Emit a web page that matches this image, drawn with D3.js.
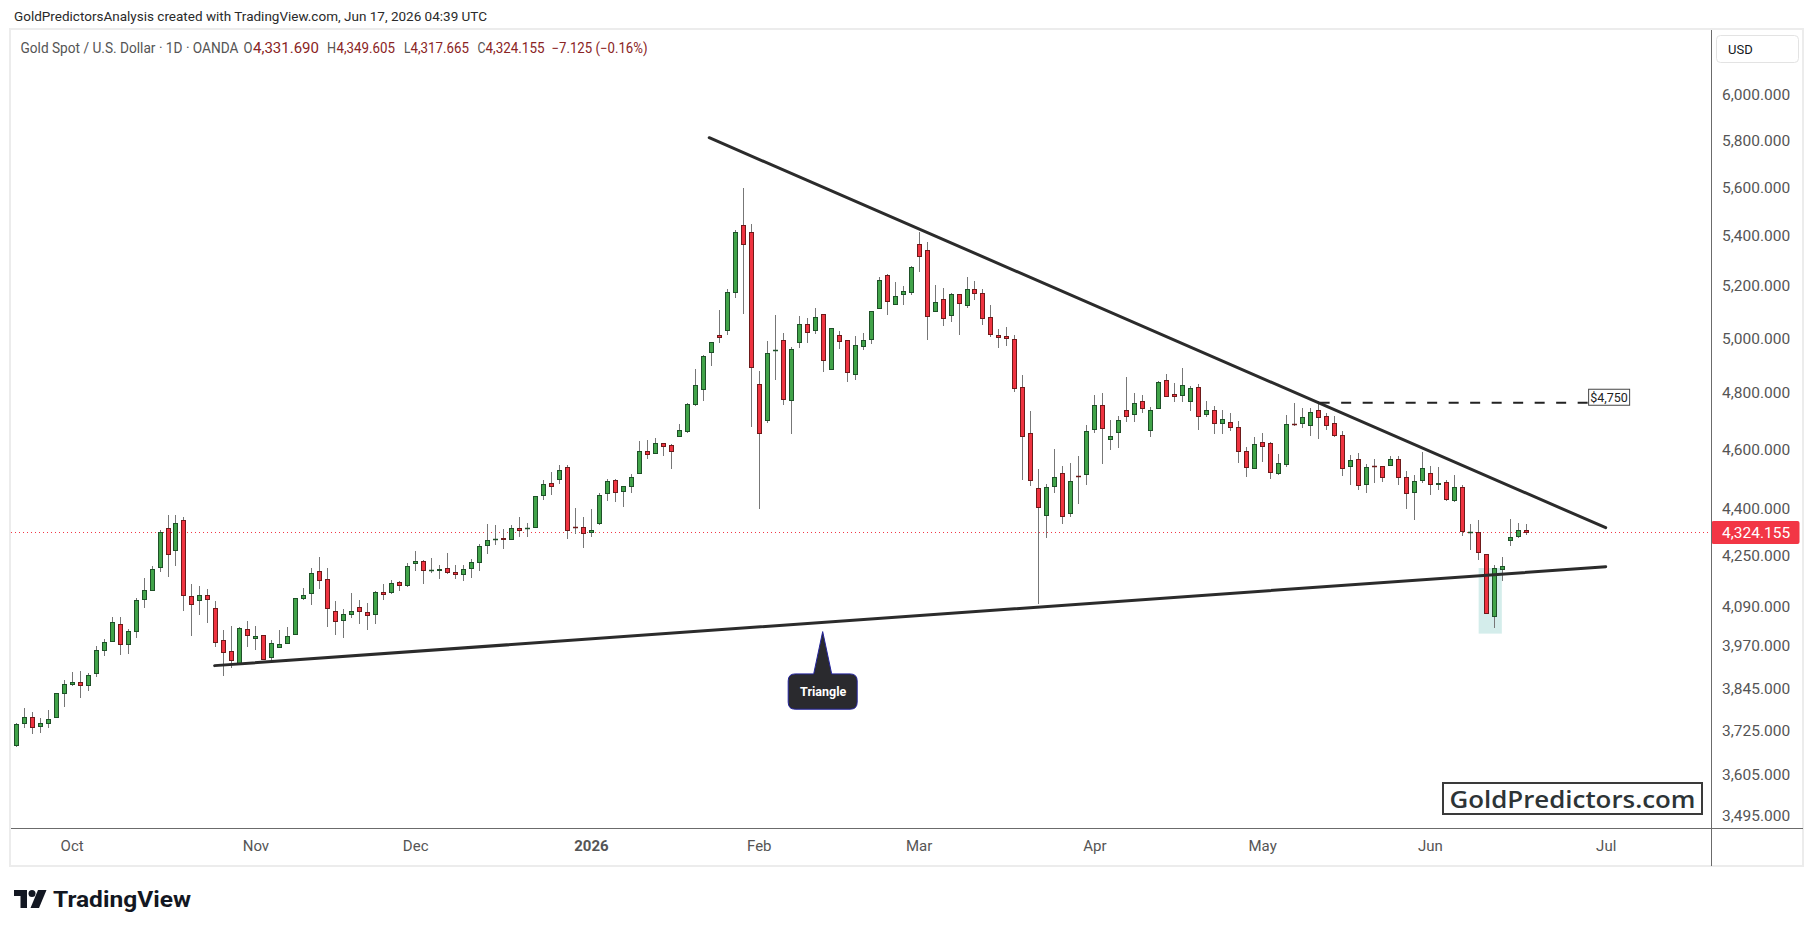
<!DOCTYPE html>
<html>
<head>
<meta charset="utf-8">
<script src="https://cdn.jsdelivr.net/npm/d3@7"></script>
<style>
  body { margin: 0; background: #fff; }
  svg { display: block; font-family: Roboto, "Noto Sans", sans-serif; }
</style>
</head>
<body>
<div id="chart"></div>
<script>
// daily XAUUSD bars, first bar 2025-09-22, last bar 2026-06-17
const startDate = "2025-09-22";
const holidays = ["2025-12-25", "2026-01-01", "2026-04-03"];

const open = [3685,3747,3764,3738,3747,3764,3832,3859,3864,3855,3890,3958,3984,4036,3976,4014,4112,4140,4212,4337,
  4266,4363,4121,4109,4124,4084,3987,3955,3919,4020,3993,4002,3937,3967,3979,4005,4115,4130,4199,4174,
  4075,4048,4066,4087,4072,4066,4134,4134,4165,4156,4224,4231,4202,4204,4209,4196,4190,4209,4227,4282,
  4300,4304,4301,4337,4336,4340,4445,4485,4499,4539,4340,4340,4324,4353,4452,4495,4459,4475,4519,4594,
  4587,4622,4615,4646,4664,4759,4813,4948,5011,5030,5175,5442,5414,4831,4702,4955,4993,4773,4985,5053,
  5030,5091,4885,5011,4993,4867,4970,4996,5114,5242,5129,5168,5175,5365,5341,5102,5148,5087,5168,5125,
  5187,5172,5079,5011,5008,4996,4820,4657,4469,4379,4475,4519,4386,4510,4516,4671,4755,4636,4660,4737,
  4723,4769,4667,4745,4845,4794,4791,4769,4820,4723,4737,4692,4695,4678,4594,4536,4625,4622,4519,4550,
  4689,4692,4685,4737,4716,4692,4649,4543,4567,4482,4543,4543,4546,4567,4506,4455,4495,4519,4484,4489,
  4429,4472,4323,4324,4253,4060,4205,4298,4311,4331.69];
const high = [3747,3790,3778,3762,3784,3832,3870,3894,3897,3891,3970,3991,4058,4058,4020,4116,4178,4215,4330,4380,
  4380,4373,4159,4152,4144,4106,4017,4030,4027,4046,4030,4002,3987,4017,4027,4115,4146,4209,4243,4209,
  4106,4081,4130,4109,4100,4137,4158,4171,4169,4224,4263,4234,4241,4219,4257,4219,4219,4237,4285,4350,
  4346,4333,4346,4372,4353,4442,4495,4522,4546,4546,4402,4372,4399,4452,4499,4499,4475,4516,4630,4632,
  4639,4622,4618,4688,4762,4885,4937,4985,5107,5187,5422,5595,5446,4879,4989,5087,5019,4966,5083,5076,
  5114,5091,5038,5026,4993,5008,5019,5102,5234,5246,5214,5199,5277,5414,5373,5203,5191,5172,5168,5234,
  5218,5187,5125,5034,5042,5011,4863,4734,4533,4482,4601,4543,4553,4577,4685,4792,4799,4702,4716,4857,
  4799,4792,4748,4842,4867,4834,4889,4823,4831,4769,4752,4737,4727,4699,4608,4643,4657,4625,4584,4720,
  4762,4745,4745,4769,4727,4716,4664,4581,4587,4550,4567,4543,4577,4577,4526,4512,4591,4543,4539,4495,
  4512,4479,4350,4363,4253,4218,4243,4366,4353,4349.605];
const low = [3684,3737,3718,3723,3736,3764,3794,3855,3820,3841,3883,3942,3984,3945,3948,3998,4089,4140,4201,4185,
  4220,4080,4004,4065,4043,3971,3886,3909,3919,3971,3962,3931,3928,3967,3979,4005,4112,4098,4145,4031,
  4007,3998,4056,4040,4022,4040,4111,4130,4141,4153,4203,4163,4195,4176,4192,4176,4170,4182,4204,4258,
  4285,4271,4301,4311,4311,4340,4432,4448,4485,4304,4320,4275,4311,4350,4429,4425,4409,4455,4519,4570,
  4587,4581,4536,4646,4660,4755,4773,4900,4987,5015,5156,5095,4681,4401,4695,4849,4759,4657,4966,4985,
  5019,4878,4885,4963,4842,4849,4959,4981,5114,5091,5129,5129,5168,5258,4996,5102,5049,5064,5015,5118,
  5148,5053,5008,4966,4974,4805,4501,4479,4100,4307,4455,4353,4376,4419,4482,4660,4553,4601,4608,4699,
  4699,4730,4646,4745,4787,4769,4769,4737,4671,4716,4657,4657,4667,4557,4509,4536,4560,4502,4516,4543,
  4685,4678,4649,4639,4671,4646,4512,4482,4465,4455,4489,4492,4546,4482,4402,4366,4489,4448,4465,4429,
  4425,4314,4269,4237,4069,4026,4171,4282,4307,4317.665];
const close = [3744,3764,3736,3747,3758,3832,3858,3864,3855,3884,3958,3981,4042,3976,4014,4109,4140,4205,4324,4253,
  4353,4124,4097,4124,4112,3981,3952,3928,4023,4002,3999,3931,3979,3976,3999,4115,4124,4193,4171,4084,
  4045,4066,4075,4075,4063,4134,4127,4162,4155,4215,4231,4202,4203,4205,4196,4190,4205,4227,4279,4298,
  4301,4301,4337,4330,4337,4442,4482,4475,4529,4330,4339,4320,4330,4445,4492,4455,4475,4506,4594,4584,
  4622,4611,4594,4667,4759,4827,4933,4985,5004,5175,5414,5365,4893,4657,4944,4957,4777,4959,5053,5023,
  5079,4918,5038,4989,4874,4974,4993,5102,5222,5141,5160,5179,5273,5317,5083,5137,5076,5168,5133,5187,
  5172,5076,5015,5004,5000,4816,4646,4495,4405,4472,4506,4376,4492,4509,4664,4755,4674,4646,4702,4716,
  4762,4745,4737,4838,4787,4787,4827,4816,4716,4737,4692,4706,4678,4594,4539,4618,4611,4522,4553,4688,
  4688,4713,4730,4713,4685,4649,4536,4563,4479,4539,4542,4506,4567,4506,4452,4492,4536,4482,4485,4432,
  4472,4327,4325,4259,4069,4209,4215,4307,4331.28,4324.155];

const priceTicks = [6000,5800,5600,5400,5200,5000,4800,4600,4400,4250,4090,3970,3845,3725,3605,3495];
const monthTicks = [["2025-10-01","Oct"],["2025-11-03","Nov"],["2025-12-01","Dec"],["2026-01-02","2026"],
  ["2026-02-02","Feb"],["2026-03-02","Mar"],["2026-04-01","Apr"],["2026-05-01","May"],["2026-06-01","Jun"],["2026-07-01","Jul"]];

// drawings: bar index (fractional allowed) and price
const upperTrend = [[86.8, 5811], [199.0, 4338]];
const lowerTrend = [[24.9, 3912], [199.0, 4213]];
const levelLine = { from: 163.2, to: 196.8, price: 4764, label: "$4,750" };
const highlight = { from: 183.1, to: 186.0, top: 4209, bottom: 4007 };
const callout = { index: 101, price: 4013, label: "Triangle" };

const W = 1814, H = 932;
const pane = { left: 11, right: 1711, top: 30, bottom: 828 };

const days = [];
for (let d = new Date(startDate + "T00:00:00Z"); days.length < 230; d.setUTCDate(d.getUTCDate() + 1)) {
  const iso = d.toISOString().slice(0, 10);
  if (d.getUTCDay() === 0 || d.getUTCDay() === 6 || holidays.includes(iso)) continue;
  days.push(iso);
}

const bars = close.map((c, i) => ({ i, o: open[i], h: high[i], l: low[i], c }));
const last = bars.at(-1);

const x = d3.scaleLinear().domain([0, 189]).range([15.7, 1525.8]);
const y = d3.scaleLog().domain([3495, 6000]).range([816, 95]);
const fmt = d3.format(",.3f");

const svg = d3.select("#chart").append("svg").attr("width", W).attr("height", H).attr("viewBox", `0 0 ${W} ${H}`);
svg.append("rect").attr("width", W).attr("height", H).attr("fill", "#fff");

// header
svg.append("text").attr("x", 14).attr("y", 21).attr("font-size", 13.5).attr("fill", "#2a2a2a")
  .attr("textLength", 473).attr("lengthAdjust", "spacingAndGlyphs")
  .text("GoldPredictorsAnalysis created with TradingView.com, Jun 17, 2026 04:39 UTC");

// chart frame
svg.append("rect").attr("x", 10).attr("y", 29).attr("width", 1793).attr("height", 837)
  .attr("fill", "#fff").attr("stroke", "#ececec").attr("stroke-width", 2);

svg.append("defs").append("clipPath").attr("id", "pane").append("rect")
  .attr("x", pane.left).attr("y", pane.top).attr("width", pane.right - pane.left).attr("height", pane.bottom - pane.top);
const plot = svg.append("g").attr("clip-path", "url(#pane)");

// highlight box behind candles
plot.append("rect")
  .attr("x", x(highlight.from)).attr("y", y(highlight.top))
  .attr("width", x(highlight.to) - x(highlight.from)).attr("height", y(highlight.bottom) - y(highlight.top))
  .attr("fill", "rgba(38,166,154,0.2)");

// last price line
const yLast = Math.round(y(last.c)) + 0.5;
plot.append("line").attr("x1", pane.left).attr("x2", pane.right).attr("y1", yLast).attr("y2", yLast)
  .attr("stroke", "#f23645").attr("stroke-dasharray", "1,3");

// candles
const up = (d) => d.c >= d.o;
const candle = plot.append("g").selectAll("g").data(bars).join("g");
candle.append("line")
  .attr("x1", (d) => Math.round(x(d.i)) + 0.5).attr("x2", (d) => Math.round(x(d.i)) + 0.5)
  .attr("y1", (d) => Math.round(y(d.h))).attr("y2", (d) => Math.round(y(d.l)) + 1)
  .attr("stroke", "#777").attr("stroke-width", 1);
candle.each(function (d) {
  const g = d3.select(this);
  const cx = Math.round(x(d.i));
  const yt = Math.round(y(Math.max(d.o, d.c))) + 0.5;
  const yb = Math.round(y(Math.min(d.o, d.c))) + 0.5;
  const edge = up(d) ? "#1e5128" : "#6e1a1a";
  if (yb - yt < 1) {
    g.append("line").attr("x1", cx - 2).attr("x2", cx + 3).attr("y1", yt).attr("y2", yt)
      .attr("stroke", edge).attr("stroke-width", 1.5);
  } else {
    g.append("rect").attr("x", cx - 1.5).attr("y", yt).attr("width", 4).attr("height", yb - yt)
      .attr("fill", up(d) ? "#41a349" : "#ef3340").attr("stroke", edge).attr("stroke-width", 1);
  }
});

// trend lines
const drawings = plot.append("g");
[upperTrend, lowerTrend].forEach((pts) => {
  drawings.append("line")
    .attr("x1", x(pts[0][0])).attr("y1", y(pts[0][1])).attr("x2", x(pts[1][0])).attr("y2", y(pts[1][1]))
    .attr("stroke", "#2b2b2b").attr("stroke-width", 3).attr("stroke-linecap", "round");
});

// horizontal level with label
const yLevel = y(levelLine.price);
drawings.append("line").attr("x1", x(levelLine.from)).attr("x2", x(levelLine.to)).attr("y1", yLevel).attr("y2", yLevel)
  .attr("stroke", "#222").attr("stroke-width", 2).attr("stroke-dasharray", "10,11.5");
const lx = x(levelLine.to);
drawings.append("rect").attr("x", lx + 0.5).attr("y", yLevel - 13.5).attr("width", 41).attr("height", 16)
  .attr("fill", "#fff").attr("stroke", "#444").attr("stroke-width", 1);
drawings.append("text").attr("x", lx + 21).attr("y", yLevel - 5.5).attr("text-anchor", "middle")
  .attr("dominant-baseline", "central").attr("font-size", 12.5).attr("fill", "#222").text(levelLine.label);

// callout
const ax = x(callout.index), ay = y(callout.price);
const bx0 = ax - 34.5, bx1 = ax + 34.5, by0 = ay + 42.3, by1 = ay + 77.6, r = 7;
drawings.append("path")
  .attr("d", `M${bx0 + r},${by0} L${ax - 9},${by0} L${ax},${ay} L${ax + 9},${by0} L${bx1 - r},${by0}
    Q${bx1},${by0} ${bx1},${by0 + r} L${bx1},${by1 - r} Q${bx1},${by1} ${bx1 - r},${by1}
    L${bx0 + r},${by1} Q${bx0},${by1} ${bx0},${by1 - r} L${bx0},${by0 + r} Q${bx0},${by0} ${bx0 + r},${by0} Z`)
  .attr("fill", "#2a2a2e").attr("stroke", "#23239c").attr("stroke-width", 1);
drawings.append("text").attr("x", ax + 0.5).attr("y", (by0 + by1) / 2).attr("text-anchor", "middle")
  .attr("dominant-baseline", "central").attr("font-size", 12.5).attr("font-weight", 700)
  .attr("fill", "#fff").text(callout.label);

// legend: one text, coloured parts
const down = "#8a2424", grey = "#555";
const change = last.c - close[188];
const legend = [
  ["Gold Spot / U.S. Dollar · 1D · OANDA", grey, 20.5, 218],
  ["O", grey, 243.5, 9], [fmt(last.o), down, 253, 66],
  ["H", grey, 327, 9], [fmt(last.h), down, 336.5, 58.5],
  ["L", grey, 404, 6.5], [fmt(last.l), down, 410.5, 58.5],
  ["C", grey, 477.5, 8], [fmt(last.c), down, 485.5, 59],
  [`${fmt(change)} (${d3.format(".2%")(change / close[188])})`, down, 551.5, 96],
];
svg.append("text").attr("y", 52.5).attr("font-size", 13.8)
  .selectAll("tspan").data(legend).join("tspan")
  .attr("x", (d) => d[2]).attr("fill", (d) => d[1])
  .attr("textLength", (d) => d[3]).attr("lengthAdjust", "spacingAndGlyphs").text((d) => d[0]);

// price axis
const yAxis = svg.append("g").attr("transform", `translate(${pane.right},0)`)
  .call(d3.axisRight(y).tickValues(priceTicks).tickSize(0).tickPadding(11).tickFormat(fmt));
yAxis.select(".domain").remove();
yAxis.selectAll("text").attr("font-size", 15.5).attr("fill", "#555").attr("font-family", "Roboto, sans-serif");

// last price tag
svg.append("rect").attr("x", pane.right + 0.5).attr("y", yLast - 11.5).attr("width", 88).attr("height", 23)
  .attr("rx", 2).attr("fill", "#f23645");
svg.append("text").attr("x", 1722).attr("y", yLast).attr("dy", "0.35em").attr("font-size", 15.5)
  .attr("fill", "#fff").text(fmt(last.c));

// currency box
svg.append("rect").attr("x", 1716.5).attr("y", 35.5).attr("width", 82).attr("height", 27).attr("rx", 4)
  .attr("fill", "#fff").attr("stroke", "#e3e3e3");
svg.append("text").attr("x", 1728).attr("y", 49.5).attr("dy", "0.35em").attr("font-size", 13)
  .attr("fill", "#131722").text("USD");

// time axis
const monthIdx = monthTicks.map((m) => days.indexOf(m[0]));
const xAxis = svg.append("g").attr("transform", `translate(0,${pane.bottom})`)
  .call(d3.axisBottom(x).tickValues(monthIdx).tickSize(0).tickPadding(12)
    .tickFormat((d, i) => monthTicks[i][1]));
xAxis.select(".domain").remove();
xAxis.selectAll("text").attr("font-size", 15).attr("fill", "#555").attr("font-family", "Roboto, sans-serif")
  .attr("font-weight", (d, i) => monthTicks[i][1] === "2026" ? 700 : 400);

// pane separators
svg.append("line").attr("x1", pane.right + 0.5).attr("x2", pane.right + 0.5).attr("y1", 30).attr("y2", 866)
  .attr("stroke", "#6b6b6b");
svg.append("line").attr("x1", pane.left).attr("x2", 1803).attr("y1", pane.bottom + 0.5).attr("y2", pane.bottom + 0.5)
  .attr("stroke", "#6b6b6b");

// watermark box
svg.append("rect").attr("x", 1443).attr("y", 783).attr("width", 259).attr("height", 31)
  .attr("fill", "#fff").attr("stroke", "#3a3a3a").attr("stroke-width", 2);
svg.append("text").attr("x", 1449.5).attr("y", 807.5).attr("font-family", "'Open Sans', sans-serif")
  .attr("font-size", 23).attr("font-weight", 600).attr("fill", "#2d3436")
  .attr("textLength", 246).attr("lengthAdjust", "spacingAndGlyphs").text("GoldPredictors.com");

// TradingView logo
const logo = svg.append("g").attr("fill", "#131722");
logo.append("path").attr("d", "M14,890 h13 v18 h-6.5 v-12 h-6.5 z");
logo.append("circle").attr("cx", 32).attr("cy", 893.5).attr("r", 3.5);
logo.append("path").attr("d", "M38,890 h8.5 l-7.5,18 h-8.5 z");
logo.append("text").attr("x", 53).attr("y", 907).attr("font-size", 22).attr("font-weight", 700)
  .attr("textLength", 138).attr("lengthAdjust", "spacingAndGlyphs").text("TradingView");
</script>
</body>
</html>
